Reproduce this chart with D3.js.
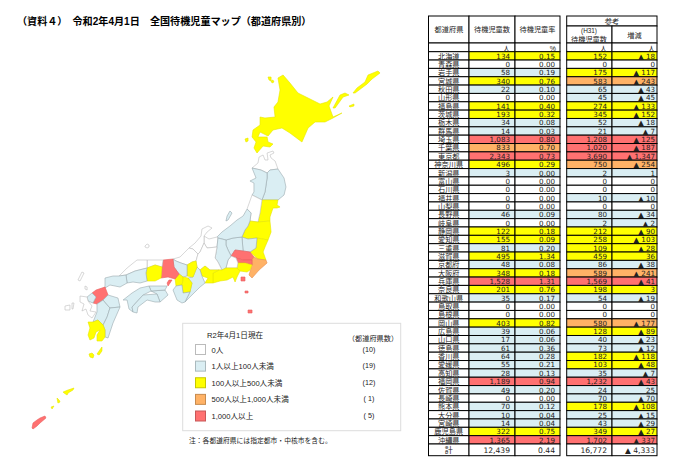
<!DOCTYPE html>
<html>
<head>
<meta charset="utf-8">
<script src="https://cdn.jsdelivr.net/npm/d3@7"></script>
<style>
body { margin: 0; background: #fff; }
text { font-family: "Liberation Sans", "Noto Sans CJK JP", sans-serif; fill: #222; }
</style>
</head>
<body>
<script>
const w = 690, h = 461;

const prefectures = ['北海道','青森県','岩手県','宮城県','秋田県','山形県','福島県','茨城県','栃木県','群馬県','埼玉県','千葉県','東京都','神奈川県','新潟県','富山県','石川県','福井県','山梨県','長野県','岐阜県','静岡県','愛知県','三重県','滋賀県','京都府','大阪府','兵庫県','奈良県','和歌山県','鳥取県','島根県','岡山県','広島県','山口県','徳島県','香川県','愛媛県','高知県','福岡県','佐賀県','長崎県','熊本県','大分県','宮崎県','鹿児島県','沖縄県'];
const waiting2020 = [134,0,58,340,22,0,141,193,34,14,1083,833,2343,496,3,0,0,0,0,46,0,122,155,81,495,48,348,1528,201,35,0,0,403,39,17,61,64,55,28,1189,49,0,70,10,14,322,1365];
const rate2020 = [0.15,0,0.19,0.76,0.10,0,0.40,0.32,0.08,0.03,0.80,0.70,0.73,0.29,0,0,0,0,0,0.09,0,0.18,0.09,0.20,1.34,0.08,0.18,1.31,0.76,0.17,0,0,0.82,0.06,0.06,0.36,0.28,0.21,0.13,0.94,0.20,0,0.12,0.04,0.04,0.75,2.19];
const waiting2019 = [152,0,175,583,65,45,274,345,52,21,1208,1020,3690,750,2,0,0,10,0,80,2,212,258,109,459,86,589,1569,198,54,0,0,580,128,40,73,182,103,35,1232,24,70,178,25,43,349,1702];
const change = [-18,0,-117,-243,-43,-45,-133,-152,-18,-7,-125,-187,-1347,-254,1,0,0,-10,0,-34,-2,-90,-103,-28,36,-38,-241,-41,3,-19,0,0,-177,-89,-23,-12,-118,-48,-7,-43,25,-70,-108,-15,-29,-27,-337];
const totals = [12439, 0.44, 16772, -4333];

const classBreaks = [1, 100, 500, 1000];
const classColors = ['#ffffff', '#daeef3', '#ffff00', '#ffb266', '#ff7171'];
const mapStrokes = ['#bdbdbd', '#9aa9ae', '#e6e600', '#e88f50', '#e86060'];
const legendLabels = ['0人', '1人以上100人未満', '100人以上500人未満', '500人以上1,000人未満', '1,000人以上'];
const legendCounts = ['(10)', '(19)', '(12)', '( 1)', '( 5)'];

// rough outlines, lon/lat
const outlines = {
	'北海道': [
		[[142.06,44.55],[142.38,44.7],[142.81,44.3],[143.31,43.8],[143.94,43.55],[144.69,43.25],[145.13,43.35],[145.5,43.6],[145.25,43.15],[145.5,42.6],[146.06,42.8],[145.5,42.55],[145,42.35],[144.38,42.35],[143.94,42.05],[143.56,41.35],[142.81,41.8],[142.31,42.05],[141.75,41.95],[141.44,41.65],[140.94,41.85],[140.81,41.6],[141.38,41.6],[141.44,41.35],[141.75,41.25],[141.56,41.1],[141.13,41.15],[140.75,40.8],[140.56,41.05],[140.69,41.35],[140.44,41.6],[140.5,41.95],[140.94,42.2],[140.94,42.6],[141.25,42.55],[141.88,42.6],[141.81,43.1],[142.06,43.35],[142.19,43.95]],
		[[145.5,43.05],[145.94,43.7],[146.25,43.8],[146.5,43.7],[146.13,43.6],[145.63,43.05]],
		[[146.75,43.8],[147,44.05],[147.5,44.35],[147.69,44.7],[148.31,44.9],[148.44,44.8],[147.94,44.5],[147.63,44.25],[146.88,43.8]],
		[[146.5,43.15],[146.81,43.25],[146.81,43.15],[146.56,43.1]],
		[[141.44,44.6],[141.63,44.6],[141.63,44.4],[141.5,44.45]],
		[[141.69,44.45],[141.81,44.4],[141.75,44.3],[141.63,44.35]],
		[[140,41.5],[140.19,41.55],[140.19,41.4],[140.06,41.35]]
	],
	'青森県': [[[140.44,40.05],[140.81,40.3],[140.88,40.6],[141.13,40.7],[141.25,40.45],[141.44,40.45],[141.38,40.8],[141.75,40.9],[141.81,40.8],[141.56,40.7],[141.63,40.55],[141.88,40.4],[142.06,40],[141.56,39.95],[141.38,39.8],[141,39.95]]],
	'秋田県': [[[140.44,40.05],[140.69,39.55],[140.31,39.4],[140.56,39.3],[140.56,38.85],[140.44,38.7],[141.06,38.45],[141.25,38.85],[141.38,39.55],[141.38,39.8],[141,39.95]]],
	'岩手県': [[[141.38,39.8],[141.56,39.95],[142.06,40],[142.44,39.55],[142.56,39.1],[142.44,38.7],[142.06,38.45],[141.06,38.45],[141.25,38.85],[141.38,39.55]]],
	'宮城県': [[[141.06,38.45],[142.06,38.45],[142,38.2],[142.19,38.1],[142,38.05],[141.75,38.05],[141.56,37.6],[141.56,37.4],[140.81,37.35],[140.94,37.8]]],
	'山形県': [[[140.44,38.7],[141.06,38.45],[140.94,37.8],[140.81,37.35],[140.31,37.4],[140.38,37.8],[140.13,38]]],
	'福島県': [[[140.31,37.4],[140.81,37.35],[141.56,37.4],[141.63,36.85],[141.44,36.45],[140.75,36.55],[140.19,36.5],[139.81,36.6],[140,36.95],[140.19,37.15]]],
	'茨城県': [[[140.75,36.55],[141.44,36.45],[141.25,36.1],[141.13,35.85],[141.31,35.45],[140.81,35.5],[140.31,35.85],[140.69,36.05]]],
	'栃木県': [[[139.81,36.6],[140.19,36.5],[140.75,36.55],[140.69,36.05],[140.31,35.85],[139.88,35.9]]],
	'群馬県': [[[138.81,36.45],[139.25,36.55],[139.81,36.6],[139.88,35.9],[139.38,35.95],[139.13,35.65],[138.94,35.95],[138.81,36.2]]],
	'埼玉県': [[[139.13,35.65],[139.38,35.95],[139.88,35.9],[140.31,35.85],[140.56,35.6],[140.44,35.45],[139.88,35.45],[139.44,35.55]]],
	'千葉県': [[[140.56,35.6],[140.81,35.5],[141.31,35.45],[141.38,35.3],[140.88,34.95],[140.44,34.55],[140.25,34.7],[140.38,35.05],[140.44,35.2],[140.44,35.45]]],
	'東京都': [
		[[139.44,35.55],[139.88,35.45],[140.44,35.45],[140.44,35.2],[140,35.3],[139.56,35.3]],
		[[139.75,34.6],[140,34.6],[140,34.4],[139.75,34.4]],
		[[140,33.9],[140.19,33.9],[140.19,33.8],[140,33.8]],
		[[140.19,32.95],[140.44,32.95],[140.44,32.8],[140.19,32.8]]
	],
	'神奈川県': [[[139.56,35.3],[140,35.3],[140.44,35.2],[140.31,34.95],[140.13,34.85],[139.69,34.9],[139.5,35.05]]],
	'新潟県': [
		[[140.13,38],[140.38,37.8],[140.31,37.4],[140.19,37.15],[140,36.95],[139.81,36.6],[139.25,36.55],[138.81,36.45],[138.31,36.55],[138.25,36.6],[138.56,36.85],[139.06,37.15],[139.5,37.45],[139.88,37.65]],
		[[139.06,37.9],[139.19,37.8],[138.94,37.45],[138.81,37.4],[138.88,37.65]]
	],
	'富山県': [[[137.44,36.65],[137.75,36.5],[138.25,36.6],[138.31,36.55],[138.25,36.1],[137.63,36.05],[137.44,36.3]]],
	'石川県': [[[136.5,36.05],[136.88,36.3],[137.25,36.65],[137.31,37],[137.69,37.15],[137.94,37.05],[137.63,36.85],[137.44,36.65],[137.44,36.3],[137.19,35.85],[137.06,35.75],[136.75,36]]],
	'福井県': [[[135.5,35.5],[135.94,35.6],[136.5,36.05],[136.75,36],[137.06,35.75],[136.94,35.4],[136.69,35.35],[136.38,35.2],[136,35.3],[135.69,35.4]]],
	'山梨県': [[[138.94,35.45],[139.13,35.65],[139.44,35.55],[139.56,35.3],[139.5,35.05],[139.19,35.05],[138.81,35.05]]],
	'長野県': [[[138.31,36.55],[138.81,36.45],[138.81,36.2],[138.94,35.95],[139.13,35.65],[138.94,35.45],[138.81,35.05],[138.56,34.95],[138.31,35.35],[138.13,35.55],[138.25,36.1]]],
	'岐阜県': [[[137.06,35.75],[137.19,35.85],[137.44,36.3],[137.63,36.05],[138.25,36.1],[138.13,35.55],[138.31,35.35],[138.56,34.95],[138.38,34.95],[137.81,34.95],[137.5,35.15],[137.19,34.95],[137,35.1],[136.94,35.4]]],
	'静岡県': [[[138,34.8],[138.38,34.95],[138.56,34.95],[138.81,35.05],[139.19,35.05],[139.5,35.05],[139.69,34.9],[139.5,34.6],[139.38,34.35],[139.25,34.6],[138.88,34.45],[138.44,34.4],[138,34.3]]],
	'愛知県': [[[137.19,34.95],[137.5,35.15],[137.81,34.95],[138.38,34.95],[138,34.8],[138,34.3],[137.5,34.3],[137.69,34.55],[137.31,34.65]]],
	'三重県': [[[137,35.1],[137.19,34.95],[137.31,34.65],[137.5,34.3],[137.19,34.1],[136.56,33.6],[136.25,33.35],[136.56,33.85],[136.69,34.3],[136.44,34.55],[136.75,34.6]]],
	'滋賀県': [[[136.69,35.35],[136.94,35.4],[137,35.1],[136.75,34.6],[136.38,34.65],[136.38,35.2]]],
	'京都府': [[[135.5,35.5],[135.69,35.4],[136,35.3],[136.38,35.2],[136.38,34.65],[136.13,34.6],[135.88,34.75],[135.56,35.1]]],
	'大阪府': [[[135.88,34.75],[136.13,34.6],[136.13,34.45],[136.06,34.2],[135.69,34.15],[135.63,34.5]]],
	'兵庫県': [
		[[134.88,35.45],[135.5,35.5],[135.56,35.1],[135.88,34.75],[135.63,34.5],[135.19,34.6],[134.75,34.55],[134.81,35.1]],
		[[135.25,34.45],[135.44,34.45],[135.19,34.15],[135.13,34.3]]
	],
	'奈良県': [[[136.13,34.6],[136.44,34.55],[136.69,34.3],[136.56,33.85],[136.13,33.8],[136.06,34.2],[136.13,34.45]]],
	'和歌山県': [[[135.69,34.15],[136.06,34.2],[136.13,33.8],[136.56,33.85],[136.25,33.35],[136.06,33.3],[135.75,33.45],[135.5,33.95]]],
	'鳥取県': [[[133.88,35.45],[134.88,35.45],[134.81,35.1],[134.38,35.2],[133.88,35.05]]],
	'島根県': [
		[[132.13,34.65],[132.63,35.05],[133.25,35.45],[133.88,35.45],[133.88,35.05],[133.13,34.9],[132.56,34.7]],
		[[133.75,36.15],[133.88,36.25],[134,36.2],[134,36.1],[133.88,36.05],[133.75,36.1]]
	],
	'岡山県': [[[133.88,35.05],[134.38,35.2],[134.81,35.1],[134.75,34.55],[134.38,34.4],[133.88,34.4],[133.81,34.8]]],
	'広島県': [[[132.56,34.7],[133.13,34.9],[133.88,35.05],[133.81,34.8],[133.88,34.4],[133.44,34.3],[133,34.35],[132.63,34.3]]],
	'山口県': [[[131.25,34.55],[131.75,34.65],[132.13,34.65],[132.56,34.7],[132.63,34.3],[132.19,34.1],[131.56,34.2],[131.25,34.05]]],
	'徳島県': [[[134.13,33.9],[135,33.95],[135.19,33.7],[134.69,33.35],[134.5,33.75]]],
	'香川県': [[[134,34.15],[135.13,34.15],[135,33.95],[134.13,33.9]]],
	'愛媛県': [[[132.38,33.45],[132.94,33.8],[133.44,34.05],[134,34.15],[134.13,33.9],[133.63,33.7],[132.94,33.1],[133,32.85],[132.75,33],[132.63,33.45]]],
	'高知県': [[[132.94,33.1],[133.63,33.7],[134.5,33.75],[134.69,33.35],[134.38,33.35],[133.88,33.45],[133.31,33.1],[133.25,32.8],[133,32.85]]],
	'福岡県': [[[130.69,33.95],[131.25,34.1],[131.44,33.7],[131.13,33.45],[130.75,33.25],[130.5,33.3],[130.69,33.6],[130.44,33.8]]],
	'佐賀県': [[[130.44,33.8],[130.69,33.6],[130.5,33.3],[130.19,33.4],[130.13,33.6]]],
	'長崎県': [
		[[129.69,33.65],[130.13,33.6],[130.19,33.4],[130.44,33.15],[130.31,32.9],[130.69,32.85],[130.44,32.55],[130.19,32.7],[130.06,33],[129.81,32.9],[129.94,33.25],[129.69,33.35]],
		[[129.81,34.85],[129.94,34.8],[129.69,34.4],[129.56,34.45]],
		[[130,34.15],[130.13,34.1],[130.13,33.95],[130,34]],
		[[128.75,33.15],[129.06,33.2],[129.06,32.95],[128.75,32.95]],
		[[129.19,33.3],[129.31,33.3],[129.25,33],[129.19,33]]
	],
	'熊本県': [[[130.75,33.25],[131.13,33.45],[131.56,33.05],[131.38,32.6],[131.13,32.2],[130.81,32.45],[130.5,32.35],[130.75,32.85]]],
	'大分県': [[[131.44,33.7],[132.06,33.55],[132.19,33.1],[131.56,33.05],[131.13,33.45]]],
	'宮崎県': [[[131.56,33.05],[132.19,33.1],[131.75,32.3],[131.44,31.55],[131.25,31.6],[131.25,31.95],[131.13,32.2],[131.38,32.6]]],
	'鹿児島県': [
		[[130.19,32.35],[130.5,32.35],[130.81,32.45],[131.13,32.2],[131.25,31.95],[131.25,31.6],[131.06,31.4],[130.75,31.4],[130.75,31.7],[130.94,31.95],[130.69,31.85],[130.56,31.55],[130.31,31.45],[130.19,31.7],[130.31,32.05]],
		[[130.25,30.75],[130.44,30.8],[130.56,30.7],[130.5,30.55],[130.31,30.6]],
		[[130.88,30.9],[131.06,31.1],[131.06,30.9],[130.88,30.7],[130.75,30.75]],
		[[128.63,28.85],[128.94,28.95],[129.31,29.05],[129.25,28.95],[128.94,28.8],[128.88,28.7],[128.69,28.8]],
		[[128.25,28.55],[128.38,28.45],[128.44,28.35],[128.31,28.3]],
		[[127.88,28.1],[128.06,28.15],[127.94,28]]
	],
	'沖縄県': [[[126.69,27.05],[126.75,27.3],[127,27.45],[127.19,27.55],[127.5,27.65],[127.56,27.55],[127.19,27.3],[127,27.15],[126.75,27]]]
};

const svg = d3.select('body').append('svg')
	.attr('width', w).attr('height', h);

const classColor = d3.scaleThreshold().domain(classBreaks).range(classColors);
const classStroke = d3.scaleThreshold().domain(classBreaks).range(mapStrokes);

// title
svg.append('text')
	.text('（資料４）　令和2年4月1日　全国待機児童マップ（都道府県別）')
	.attr('x', 17).attr('y', 25)
	.attr('font-size', 10.1)
	.attr('font-weight', 'bold')
	.style('fill', '#000');

// map
const lonScale = d3.scaleLinear().domain([125, 149]).range([5, 389]);
const latScale = d3.scaleLinear().domain([26, 46]).range([449, 49]);
const mapPath = d3.geoPath(d3.geoTransform({
	point(lon, lat) { this.stream.point(lonScale(lon), latScale(lat)); }
}));
const closeRing = (ring) => [ring.concat([ring[0]])];

svg.append('g').selectAll('path')
	.data(prefectures)
	.enter()
	.append('path')
	.attr('d', (d) => mapPath({ type: 'MultiPolygon', coordinates: outlines[d].map(closeRing) }))
	.attr('fill', (d, i) => classColor(waiting2020[i]))
	.attr('stroke', (d, i) => classStroke(waiting2020[i]))
	.attr('stroke-width', 0.6)
	.attr('stroke-linejoin', 'round');

// legend
const legend = svg.append('g');
legend.append('rect')
	.attr('x', 182.7).attr('y', 323.3)
	.attr('width', 218).attr('height', 107.4)
	.attr('fill', '#fff').attr('stroke', '#ddd');
legend.append('text').text('R2年4月1日現在')
	.attr('x', 207).attr('y', 338).attr('font-size', 7.6);
legend.append('text').text('（都道府県数）')
	.attr('x', 373).attr('y', 341).attr('font-size', 7.2).attr('text-anchor', 'middle');
legend.append('text').text('注：各都道府県には指定都市・中核市を含む。')
	.attr('x', 189).attr('y', 443).attr('font-size', 6.8);

const legendY = d3.scalePoint().domain(legendLabels).range([349.5, 416]);
const legendRow = legend.selectAll('g.row')
	.data(legendLabels)
	.enter()
	.append('g')
	.attr('class', 'row')
	.attr('transform', (d) => `translate(0,${legendY(d)})`);
legendRow.append('rect')
	.attr('x', 195.5).attr('y', -5)
	.attr('width', 10).attr('height', 10)
	.attr('fill', (d, i) => classColors[i])
	.attr('stroke', (d, i) => i === 0 ? '#bbb' : d3.color(classColors[i]).darker(0.7));
legendRow.append('text').text((d) => d)
	.attr('x', 211.5).attr('y', 3)
	.attr('font-size', 7.6);
legendRow.append('text').text((d, i) => legendCounts[i])
	.attr('x', 369).attr('y', 2)
	.attr('font-size', 7.2)
	.attr('text-anchor', 'middle');

// table
const fmtInt = d3.format(',');
const fmtRate = d3.format('.2f');
const fmtChange = (v) => (v < 0 ? '▲ ' : '') + fmtInt(Math.abs(v));

const columns = [
	{ x0: 428.5, x1: 469, pad: 0, text: (i) => prefectures[i], total: '計', color: () => '#fff' },
	{ x0: 469, x1: 515, pad: 5, text: (i) => fmtInt(waiting2020[i]), total: fmtInt(totals[0]), color: (i) => classColor(waiting2020[i]) },
	{ x0: 515, x1: 560, pad: 5, text: (i) => fmtRate(rate2020[i]), total: fmtRate(totals[1]), color: (i) => classColor(waiting2020[i]) },
	{ x0: 566.7, x1: 612, pad: 5, text: (i) => fmtInt(waiting2019[i]), total: fmtInt(totals[2]), color: (i) => classColor(waiting2019[i]) },
	{ x0: 612, x1: 657, pad: 2, text: (i) => fmtChange(change[i]), total: fmtChange(totals[3]), color: (i) => classColor(waiting2019[i]) }
];

const rowY = d3.scaleBand().domain(d3.range(prefectures.length)).range([51.7, 444]);
const table = svg.append('g');
const tableText = svg.append('g');

const box = (x0, y0, x1, y1, fill) => table.append('rect')
	.attr('x', x0).attr('y', y0)
	.attr('width', x1 - x0).attr('height', y1 - y0)
	.attr('fill', fill || '#fff')
	.attr('stroke', '#000').attr('stroke-width', 1);
const label = (t, x, y, size, anchor) => tableText.append('text').text(t)
	.attr('x', x).attr('y', y)
	.attr('font-size', size || 7.2)
	.attr('text-anchor', anchor || 'middle');

// header
box(428.5, 16, 469, 43); box(469, 16, 515, 43); box(515, 16, 560, 43);
box(566.7, 16, 657, 26); box(566.7, 26, 612, 43); box(612, 26, 657, 43);
box(428.5, 43, 469, 51.7); box(469, 43, 515, 51.7); box(515, 43, 560, 51.7);
box(566.7, 43, 612, 51.7); box(612, 43, 657, 51.7);
label('都道府県', 449, 32);
label('待機児童数', 492, 32);
label('待機児童率', 537.5, 32);
label('参考', 612, 24);
label('(H31)', 589, 33, 6.4);
label('待機児童数', 589, 41.5);
label('増減', 634.5, 38);
label('人', 510, 50.5, 7, 'end');
label('%', 556, 50.5, 7, 'end');
label('人', 607, 50.5, 7, 'end');
label('人', 655, 50.5, 7, 'end');

// cells, fills and lines first so no row paints over the text of the row above
columns.forEach((c) => {
	const anchor = c.pad ? 'end' : 'middle';
	const tx = c.pad ? c.x1 - c.pad : (c.x0 + c.x1) / 2;
	const rowIndex = prefectures.map((d, i) => i);
	const cellFont = c.pad ? '"DejaVu Sans", sans-serif' : '"Liberation Sans", "Noto Sans CJK JP", sans-serif';
	table.append('g').selectAll('rect')
		.data(rowIndex)
		.enter()
		.append('rect')
		.attr('x', c.x0).attr('y', (i) => rowY(i))
		.attr('width', c.x1 - c.x0)
		.attr('height', rowY.bandwidth())
		.attr('fill', c.color)
		.attr('stroke', '#000').attr('stroke-width', 1);
	tableText.append('g').selectAll('text')
		.data(rowIndex)
		.enter()
		.append('text')
		.text(c.text)
		.attr('x', tx).attr('y', (i) => rowY(i) + rowY.bandwidth() - 1.4)
		.attr('font-size', c.pad ? 7.15 : 7.2)
		.style('font-family', cellFont)
		.attr('text-anchor', anchor);
	box(c.x0, 444, c.x1, 455.7);
	label(c.total, tx, 453, c.pad ? 7.6 : 8, anchor)
		.style('font-family', cellFont);
});
</script>
</body>
</html>
